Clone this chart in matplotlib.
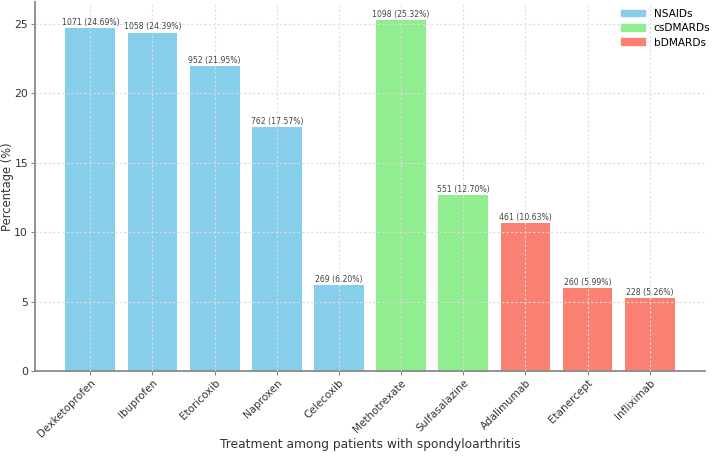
import matplotlib
matplotlib.use("Agg")
import matplotlib.pyplot as plt
from matplotlib.patches import Patch

treatments = ["Dexketoprofen", "Ibuprofen", "Etoricoxib", "Naproxen", "Celecoxib",
              "Methotrexate", "Sulfasalazine", "Adalimumab", "Etanercept", "Infliximab"]
counts = [1071, 1058, 952, 762, 269, 1098, 551, 461, 260, 228]
percentages = [24.69, 24.39, 21.95, 17.57, 6.20, 25.32, 12.70, 10.63, 5.99, 5.26]
groups = ["NSAIDs"] * 5 + ["csDMARDs"] * 2 + ["bDMARDs"] * 3
group_names = ["NSAIDs", "csDMARDs", "bDMARDs"]
group_colors = {"NSAIDs": "#87CEEB", "csDMARDs": "#90EE90", "bDMARDs": "#FA8072"}

fig = plt.figure(figsize=(7.16, 4.76), dpi=100)
ax = fig.add_axes([0.0489, 0.2206, 0.9358, 0.775])

colors = [group_colors[g] for g in groups]
x = list(range(len(treatments)))
bars = ax.bar(x, percentages, width=0.8, color=colors, zorder=1)

for xi, c, p in zip(x, counts, percentages):
    ax.text(xi, p + 0.08, f"{c} ({p:.2f}%)", ha="center", va="bottom",
            fontsize=5.6, color="#444444", zorder=3)

ax.set_xticks(x)
ax.set_xticklabels(treatments, rotation=45, ha="right", rotation_mode="anchor",
                   fontsize=7.5, color="#333333")
ax.tick_params(axis="y", labelsize=7.8, labelcolor="#333333", color="#888888", length=3, pad=2)
ax.tick_params(axis="x", color="#888888", length=3, pad=2)
ax.set_ylabel("Percentage (%)", fontsize=8.3, color="#333333", va="center")
ax.yaxis.set_label_coords(-0.041, 0.5)
ax.set_xlabel("Treatment among patients with spondyloarthritis", fontsize=8.8,
              color="#333333", va="center")
ax.xaxis.set_label_coords(0.5, -0.2005)

ax.grid(True, linestyle=(0, (2, 2)), color="#dddddd", linewidth=0.8, zorder=2)
ax.set_axisbelow(False)
for s in ["top", "right"]:
    ax.spines[s].set_visible(False)
for s in ["left", "bottom"]:
    ax.spines[s].set_color("#888888")
    ax.spines[s].set_linewidth(1.3)

handles = [Patch(color=group_colors[g], label=g) for g in group_names]
ax.legend(handles=handles, loc="upper right", frameon=False, fontsize=7.6,
          bbox_to_anchor=(1.022, 1.008), handlelength=2.3, handleheight=0.6,
          labelspacing=0.42, handletextpad=0.8)

fig.savefig("out.png", dpi=100)
